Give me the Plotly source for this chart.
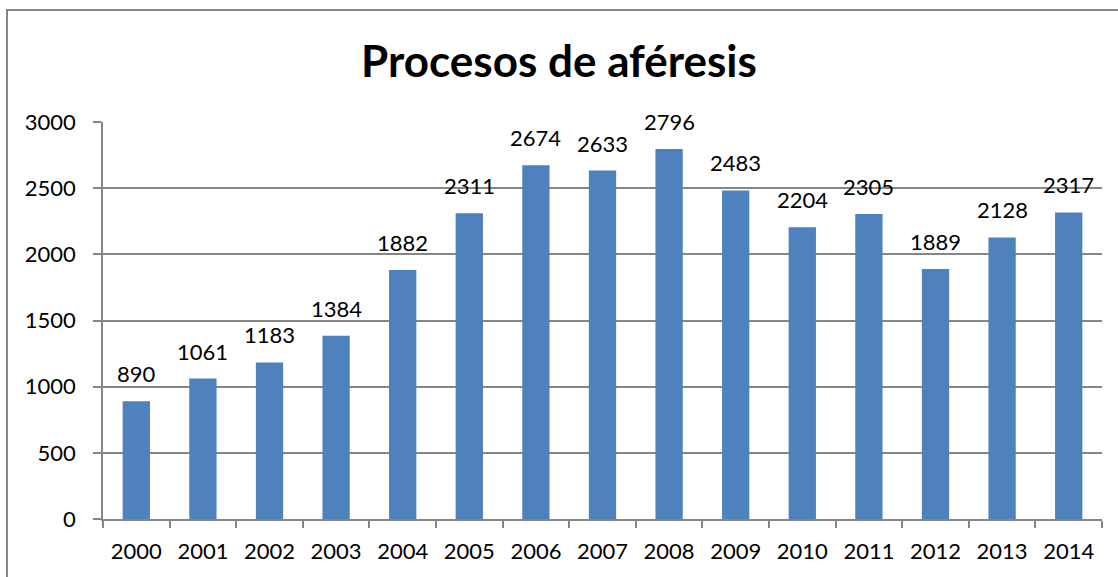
import plotly.graph_objects as go

years = ["2000", "2001", "2002", "2003", "2004", "2005", "2006", "2007",
         "2008", "2009", "2010", "2011", "2012", "2013", "2014"]
values = [890, 1061, 1183, 1384, 1882, 2311, 2674, 2633, 2796, 2483,
          2204, 2305, 1889, 2128, 2317]
y_ticks = [0, 500, 1000, 1500, 2000, 2500, 3000]

W, H = 1118, 577
L, R, T, B = 103, 16, 122, 58
pw, ph = W - L - R, H - T - B
FONT = "Lato, Open Sans, sans-serif"

def px_x(p):
    return (p - L) / pw

def px_y(p):
    return (H - B - p) / ph

fig = go.Figure(go.Bar(
    x=years, y=values,
    marker=dict(color="#4F81BD", line=dict(width=0)),
    cliponaxis=False,
))

# category axis: annotations placed by category index
for i, v in enumerate(values):
    fig.add_annotation(x=i, y=v, xref="x", yref="y", text=str(v), showarrow=False,
                       xanchor="center", yanchor="bottom", yshift=12,
                       font=dict(family=FONT, size=22, color="#000000"))

fig.update_layout(
    width=W, height=H,
    margin=dict(l=L, r=R, t=T, b=B, pad=0),
    paper_bgcolor="white", plot_bgcolor="white",
    bargap=0.59,
    showlegend=False,
    title=dict(text="<b>Procesos de aféresis</b>", x=0.5, xanchor="center",
               y=1 - 62 / H, yanchor="middle",
               font=dict(family=FONT, size=44, color="#000000")),
    font=dict(family=FONT, size=22, color="#000000"),
    xaxis=dict(type="category", showline=True, linecolor="#868686", linewidth=1.5,
               ticks="outside", ticklen=7, tickcolor="#868686", tickwidth=1.5,
               tickson="boundaries", showgrid=False, ticklabelstandoff=12,
               tickangle=0, tickfont=dict(size=22, color="#000000")),
    yaxis=dict(range=[0, 3000], tickvals=y_ticks, showline=True,
               linecolor="#868686", linewidth=1.5,
               ticks="outside", ticklen=8, tickcolor="#868686", tickwidth=1.5,
               showgrid=True, gridcolor="#868686", gridwidth=1.5,
               zeroline=False, ticklabelstandoff=13,
               tickfont=dict(size=22, color="#000000")),
)

fig.add_shape(type="rect", xref="paper", yref="paper",
              x0=px_x(7), x1=px_x(1125), y0=px_y(590), y1=px_y(10),
              line=dict(color="#868686", width=2), fillcolor="rgba(0,0,0,0)",
              layer="below")

fig.write_html("out.html", config={"displayModeBar": False},
               post_script="document.body.style.margin='0';document.body.style.overflow='hidden';")
